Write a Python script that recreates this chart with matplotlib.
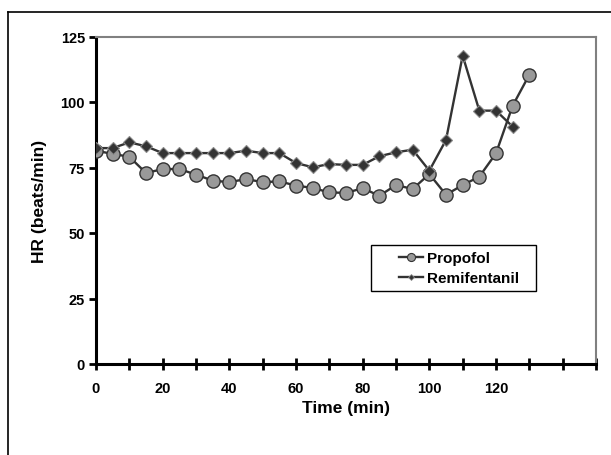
import matplotlib
matplotlib.use("Agg")
import matplotlib.pyplot as plt
from matplotlib.lines import Line2D
from matplotlib.patches import Rectangle

plt.rcParams['font.family'] = ['Liberation Sans', 'DejaVu Sans']
plt.rcParams['font.weight'] = 'bold'

time_min = [0, 5, 10, 15, 20, 25, 30, 35, 40, 45, 50, 55, 60, 65, 70, 75, 80, 85, 90, 95,
            100, 105, 110, 115, 120, 125, 130]
propofol = [81.4, 80.2, 79.1, 72.9, 74.4, 74.4, 72.3, 70.0, 69.4, 70.6, 69.4, 69.7, 68.1, 67.2,
            65.5, 65.3, 67.1, 64.2, 68.3, 66.8, 72.5, 64.6, 68.3, 71.5, 80.4, 98.6, 110.4]
remi_time = [0, 5, 10, 15, 20, 25, 30, 35, 40, 45, 50, 55, 60, 65, 70, 75, 80, 85, 90, 95,
             100, 105, 110, 115, 120, 125]
remifentanil = [82.4, 82.4, 84.6, 83.1, 80.5, 80.5, 80.5, 80.5, 80.5, 81.4, 80.5, 80.5, 76.7,
                75.1, 76.3, 76.0, 76.0, 79.3, 80.8, 81.8, 73.8, 85.5, 117.7, 96.7, 96.7, 90.6]

xticks = list(range(0, 151, 10))
xticklabels = [str(t) if t <= 120 and t % 20 == 0 else '' for t in xticks]
yticks = [0, 25, 50, 75, 100, 125]

W, H = 611, 456
fig = plt.figure(figsize=(W / 100, H / 100), dpi=100)
ax = fig.add_axes([96 / W, (H - 365) / H, 500 / W, 327.5 / H])

ax.plot(time_min, propofol, color='#333333', lw=1.7, marker='o', ms=9.5,
        mfc='#999999', mec='#333333', mew=1.0, label='Propofol', zorder=3)
ax.plot(remi_time, remifentanil, color='#333333', lw=1.7, marker='D', ms=6.3,
        mfc='#333333', mec='#8a8a8a', mew=0.8, label='Remifentanil', zorder=4)

ax.set_xlim(0, 150)
ax.set_ylim(0, 125)
ax.set_xticks(xticks)
ax.set_xticklabels(xticklabels)
ax.set_yticks(yticks)

for s in ['left', 'bottom']:
    ax.spines[s].set_color('black')
    ax.spines[s].set_linewidth(2.2)
for s in ['top', 'right']:
    ax.spines[s].set_color('#808080')
    ax.spines[s].set_linewidth(1.5)

ax.tick_params(axis='x', direction='inout', length=9, width=2.0, pad=7.5, labelsize=10.5)
ax.tick_params(axis='y', direction='out', length=5, width=2.0, pad=3, labelsize=10.5)
for lab in ax.get_xticklabels() + ax.get_yticklabels():
    lab.set_fontweight('bold')

ax.set_xlabel('Time (min)', fontsize=12.5, fontweight='bold')
ax.set_ylabel('HR (beats/min)', fontsize=12.5, fontweight='bold')
ax.xaxis.set_label_coords(0.5, -0.11)
ax.yaxis.set_label_coords(-0.098, 0.498)

# legend box
ax.add_patch(Rectangle(((371 - 96) / 500, (365 - 292) / 327.5), 165 / 500, 46 / 327.5,
                       transform=ax.transAxes, fill=True, facecolor='white',
                       edgecolor='black', lw=1.0, zorder=5))
handles = [Line2D([], [], color='#333333', lw=1.7, marker='o', ms=5.8, mfc='#999999',
                  mec='#333333', mew=0.8),
           Line2D([], [], color='#333333', lw=1.7, marker='D', ms=3.0, mfc='#333333',
                  mec='#8a8a8a', mew=0.6)]
leg = ax.legend(handles, ['Propofol', 'Remifentanil'], loc='center left',
                bbox_to_anchor=((399 - 96) / 500, (365 - 269) / 327.5),
                frameon=False, prop={'weight': 'bold', 'size': 11}, handlelength=1.6,
                borderpad=0, labelspacing=0.4, handletextpad=0.25, borderaxespad=0)
leg.set_zorder(6)

# outer chart border (cropped at right and bottom)
fig.add_artist(Line2D([8 / W, 1.0], [1 - 13 / H, 1 - 13 / H], transform=fig.transFigure,
                      color='black', lw=1.2))
fig.add_artist(Line2D([8 / W, 8 / W], [1 - 13 / H, 0.0], transform=fig.transFigure,
                      color='black', lw=1.2))

fig.savefig('out.png', dpi=100, facecolor='white')
